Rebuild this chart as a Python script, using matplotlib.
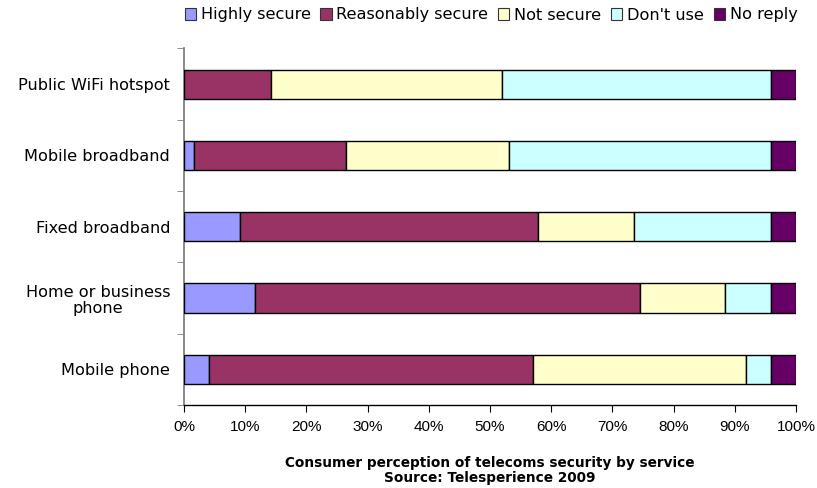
import matplotlib
matplotlib.use("Agg")
import matplotlib.pyplot as plt
from matplotlib.patches import Patch
import numpy as np

plt.rcParams['font.family'] = ['Liberation Sans', 'DejaVu Sans']

services = ["Public WiFi hotspot", "Mobile broadband", "Fixed broadband",
            "Home or business\nphone", "Mobile phone"]
series_names = ["Highly secure", "Reasonably secure", "Not secure", "Don't use", "No reply"]
highly_secure = [0.0, 1.6, 9.2, 11.6, 4.1]
reasonably_secure = [14.2, 24.9, 48.6, 62.9, 53.0]
not_secure = [37.8, 26.6, 15.7, 13.9, 34.7]
dont_use = [43.9, 42.8, 22.4, 7.5, 4.1]
no_reply = [4.1, 4.1, 4.1, 4.1, 4.1]
colors = ["#9999FF", "#993366", "#FFFFCC", "#CCFFFF", "#660066"]

fig = plt.figure(figsize=(8.17, 4.88), dpi=100)
ax = fig.add_axes([184/817, 1-405/488, (796-184)/817, (405-48.5)/488])

y = np.arange(len(services))
left = np.zeros(len(services))
for vals, c in zip([highly_secure, reasonably_secure, not_secure, dont_use, no_reply], colors):
    v = np.array(vals)
    ax.barh(y, v, left=left, height=0.41, color=c, edgecolor="black", linewidth=1.0, zorder=3)
    left += v

ax.set_xlim(0, 100)
ax.set_ylim(len(services) - 0.5, -0.5)
ax.set_xticks(np.arange(0, 101, 10))
ax.set_xticklabels([f"{t}%" for t in range(0, 101, 10)], fontsize=11)
ax.set_yticks(y)
ax.set_yticklabels(services, fontsize=11.6, family="DejaVu Sans", ha="right",
                   multialignment="center", linespacing=1.1)
ax.set_yticks(np.arange(-0.5, len(services)), minor=True)
ax.tick_params(axis="y", which="major", length=0, pad=10)
ax.tick_params(axis="y", which="minor", length=5, color="#808080", direction="out")
ax.tick_params(axis="x", which="major", length=5, color="black", direction="out", pad=6)
for s in ["top", "right"]:
    ax.spines[s].set_visible(False)
ax.spines["left"].set_color("#808080")
ax.spines["left"].set_linewidth(1.3)
ax.spines["bottom"].set_color("black")
ax.spines["bottom"].set_linewidth(1.0)

handles = [Patch(facecolor=c, edgecolor="#333333", linewidth=0.8) for c in colors]
fig.legend(handles, series_names, loc="center", bbox_to_anchor=(491/817, 1-15/488),
           ncol=5, frameon=False, prop={"family": "DejaVu Sans", "size": 11.6},
           handlelength=0.7, handleheight=0.7,
           handletextpad=0.3, columnspacing=0.6, borderaxespad=0)

fig.text(490/817, 1-463/488, "Consumer perception of telecoms security by service",
         ha="center", va="center", fontsize=9.8, fontweight="bold", family="DejaVu Sans")
fig.text(490/817, 1-478/488, "Source: Telesperience 2009",
         ha="center", va="center", fontsize=9.8, fontweight="bold", family="DejaVu Sans")

fig.savefig("out.png", dpi=100, facecolor="white")
